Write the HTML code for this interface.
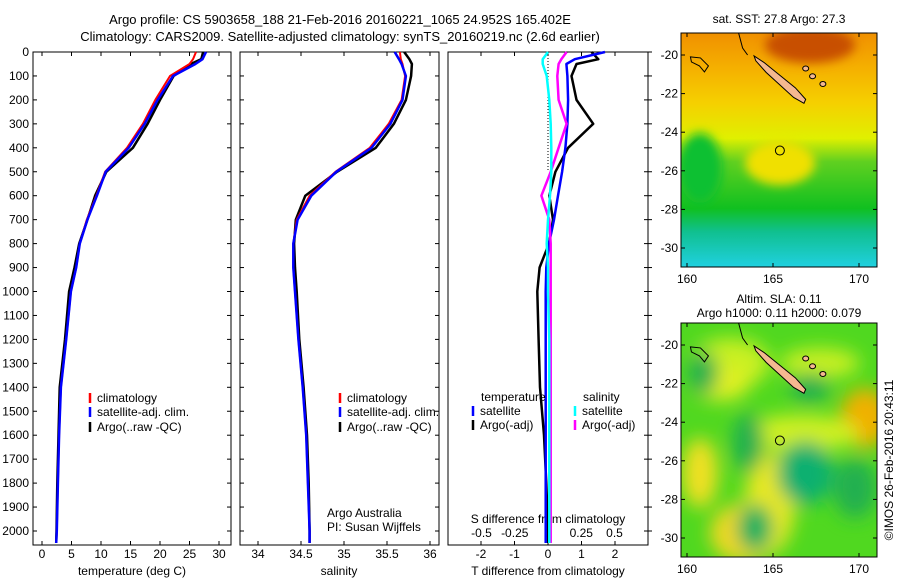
<!DOCTYPE html>
<html><head><meta charset="utf-8"><style>
body{margin:0;background:#fff;font-family:"Liberation Sans",sans-serif}
svg text{font-family:"Liberation Sans",sans-serif;font-size:12px;fill:#000}
</style></head><body>
<svg id="c" width="900" height="580" viewBox="0 0 900 580" xmlns="http://www.w3.org/2000/svg">
<text x="340" y="24" text-anchor="middle" style="font-size:13px">Argo profile: CS 5903658_188 21-Feb-2016 20160221_1065 24.952S 165.402E</text>
<text x="340" y="41" text-anchor="middle" style="font-size:13px">Climatology: CARS2009. Satellite-adjusted climatology: synTS_20160219.nc (2.6d earlier)</text>
<g id="maps"></g>
<g id="plots"></g>
</svg>
<script>
// ---- data ----
const depths = [0,30,50,100,200,300,400,500,600,700,800,900,1000,1200,1400,1600,1800,2000,2050];
const tempClim = [26.1,25.6,25,21.7,19.2,17.1,14.4,10.7,9.2,7.6,6.4,5.8,4.9,4.1,3.2,2.9,2.7,2.5,2.4];
const tempSat  = [27.8,27.2,26,22.2,19.6,17.4,14.7,10.8,9.3,7.7,6.4,5.8,4.9,4.1,3.2,2.9,2.7,2.5,2.4];
const tempArgo = [27.3,27.0,25.2,22.3,20.0,17.9,15.4,10.9,9.0,7.7,6.3,5.5,4.6,3.9,3.0,2.8,2.6,2.45,2.4];
const salClim = [35.65,35.66,35.68,35.71,35.67,35.52,35.3,34.9,34.6,34.45,34.41,34.41,34.43,34.47,34.52,34.56,34.58,34.6,34.6];
const salSat  = [35.59,35.64,35.67,35.72,35.68,35.54,35.32,34.91,34.62,34.46,34.41,34.41,34.43,34.47,34.52,34.56,34.58,34.6,34.6];
const salArgo = [35.70,35.76,35.79,35.78,35.72,35.58,35.37,34.92,34.55,34.44,34.42,34.43,34.45,34.48,34.53,34.57,34.59,34.6,34.6];
const dTsat  = [1.7,0.8,0.55,0.58,0.6,0.58,0.52,0.42,0.3,0.18,0.03,-0.05,-0.07,-0.07,-0.07,-0.07,-0.07,-0.07,-0.07];
const dTargo = [1.3,1.5,0.85,0.7,0.85,1.35,0.6,0.22,0.04,0.15,0.03,-0.25,-0.32,-0.28,-0.24,-0.12,-0.05,0,0];
const dSsat  = [0,-0.04,-0.04,-0.01,0.01,0.02,0.025,0.025,0.015,0.0,-0.01,0,0,0.01,0.01,0.01,0.01,0.01,0.01];
const dSargo = [0.14,0.1,0.08,0.07,0.08,0.14,0.08,0.02,-0.05,0.01,0.02,0.02,0.02,0.02,0.02,0.02,0.02,0.02,0.02];
const depthTicks = [0,100,200,300,400,500,600,700,800,900,1000,1100,1200,1300,1400,1500,1600,1700,1800,1900,2000];
const tempTicks = [0,5,10,15,20,25,30];
const salTicks = [34,34.5,35,35.5,36];
const dTTicks = [-2,-1,0,1,2];
const dSTicks = [-0.5,-0.25,0,0.25,0.5];
const dSTickLabels = ['-0.5','-0.25','0','0.25','0.5'];
const lonTicks = [160,165,170];
const latTicks = [-20,-22,-24,-26,-28,-30];

const NS='http://www.w3.org/2000/svg';
const plots=document.getElementById('plots');
function mk(tag,attrs,parent){const e=document.createElementNS(NS,tag);for(const k in attrs)e.setAttribute(k,attrs[k]);(parent||plots).appendChild(e);return e;}
function txt(x,y,s,anchor,parent,size){const t=mk('text',{x:x,y:y,'text-anchor':anchor||'start'},parent);if(size)t.style.fontSize=size+'px';t.textContent=s;return t;}

const yTop=52, yBot=545;
const yS=d=>yTop+d*0.2395;
const P=[
 {x0:33,x1:231,xs:v=>42+v*5.9,name:'temperature-panel'},
 {x0:240,x1:439,xs:v=>258+(v-34)*86,name:'salinity-panel'},
 {x0:448,x1:648,xs:v=>548+v*33.5,name:'difference-panel'}];
const dS=v=>548+v*133;
P.forEach(p=>{
 const r=mk('rect',{x:p.x0,y:yTop,width:p.x1-p.x0,height:yBot-yTop,fill:'none',stroke:'#000','stroke-width':1});
 
 
});
depthTicks.forEach(d=>{
 const y=yS(d);
 const t=txt(29,y+4,String(d),'end');
 
 
 P.forEach((p,i)=>{
  if(i<2)mk('line',{x1:p.x0,x2:p.x0+4,y1:y,y2:y,stroke:'#000'});
  mk('line',{x1:p.x1-4,x2:p.x1,y1:y,y2:y,stroke:'#000'});
  if(i==2)mk('line',{x1:p.x1,x2:p.x1+4,y1:y,y2:y,stroke:'#000'});
 });
});
function xticks(p,ticks,fn,labels,ylab){
 ticks.forEach((v,i)=>{const x=fn(v);
  mk('line',{x1:x,x2:x,y1:yBot,y2:yBot-4,stroke:'#000'});
  mk('line',{x1:x,x2:x,y1:yTop,y2:yTop+4,stroke:'#000'});
  const t=txt(x,ylab,labels?labels[i]:String(v),'middle');
  
  
 });
}
xticks(P[0],tempTicks,P[0].xs,null,558);
xticks(P[1],salTicks,P[1].xs,['34','34.5','35','35.5','36'],558);
xticks(P[2],dTTicks,P[2].xs,null,558);
dSTicks.forEach((v,i)=>{const t=txt(dS(v),537,dSTickLabels[i],'middle');
 
 });
let t;
t=txt(132,575,'temperature (deg C)','middle');
t=txt(339,575,'salinity','middle');
t=txt(548,575,'T difference from climatology','middle');
t=txt(548,523,'S difference from climatology','middle');
mk('line',{x1:548,x2:548,y1:yTop,y2:yS(500),stroke:'#000','stroke-dasharray':'1,2'});

function line(vals,fn,color,w,name){
 const pts=vals.map((v,i)=>fn(v).toFixed(1)+','+yS(depths[i]).toFixed(1)).join(' ');
 const pl=mk('polyline',{points:pts,fill:'none',stroke:color,'stroke-width':w,'stroke-linejoin':'round'});
 
 
}
line(tempArgo,P[0].xs,'#000',2.5,'temp-argo-line');
line(tempClim,P[0].xs,'#f00',2,'temp-climatology-line');
line(tempSat,P[0].xs,'#00f',2.5,'temp-satellite-line');
line(salArgo,P[1].xs,'#000',2.5,'sal-argo-line');
line(salClim,P[1].xs,'#f00',2,'sal-climatology-line');
line(salSat,P[1].xs,'#00f',2.5,'sal-satellite-line');
line(dTargo,P[2].xs,'#000',2.5,'dt-argo-line');
line(dTsat,P[2].xs,'#00f',2.5,'dt-satellite-line');
line(dSargo,dS,'#f0f',2.5,'ds-argo-line');
line(dSsat,dS,'#0ff',2.5,'ds-satellite-line');

function leg(x,y,c,s){mk('line',{x1:x,x2:x,y1:y-9,y2:y+1,stroke:c,'stroke-width':2.5});
 const e=txt(x+7,y,s,'start');}
[90,340].forEach(x=>{leg(x,402,'#f00','climatology');leg(x,416,'#00f','satellite-adj. clim.');leg(x,431,'#000','Argo(..raw -QC)');});
t=txt(481,401,'temperature');
t=txt(583,401,'salinity');
leg(473,415,'#00f','satellite');leg(473,429,'#000','Argo(-adj)');
leg(575,415,'#0ff','satellite');leg(575,429,'#f0f','Argo(-adj)');
t=txt(327,517,'Argo Australia');
t=txt(327,531,'PI: Susan Wijffels');

// ---- maps ----
const maps=document.getElementById('maps');
const lonX=l=>687+(l-160)*17.2;
function map(y0,kind,title1,title2){
 const g=mk('g',{},maps);
 
 
 const latY=la=>y0+22+(-20-la)*19.3;
 const W=196,H=234,x0=681;
 const defs=mk('defs',{},g);
 const clip=mk('clipPath',{id:'cl'+kind},defs);mk('rect',{x:x0,y:y0,width:W,height:H},clip);
 const blur=mk('filter',{id:'bl'+kind,x:'-50%',y:'-50%',width:'200%',height:'200%'},defs);mk('feGaussianBlur',{stdDeviation:kind==='sst'?5:9},blur);
 const gg=mk('g',{'clip-path':'url(#cl'+kind+')'},g);
 if(kind==='sst'){
  const lg=mk('linearGradient',{id:'gsst',x1:0,y1:0,x2:0,y2:1},defs);
  [[0,'#f09000'],[0.15,'#f5b000'],[0.3,'#f5d000'],[0.45,'#e0f000'],[0.55,'#60d020'],[0.75,'#10c020'],[0.85,'#10c090'],[1,'#20d0e0']].forEach(([o,c])=>mk('stop',{offset:o,'stop-color':c},lg));
  mk('rect',{x:x0,y:y0,width:W,height:H,fill:'url(#gsst)'},gg);
  const b=mk('g',{filter:'url(#bl'+kind+')'},gg);
  mk('ellipse',{cx:810,cy:y0+12,rx:45,ry:18,fill:'#c85000'},b);
  mk('ellipse',{cx:700,cy:y0+135,rx:22,ry:35,fill:'#10c030'},b);
  mk('ellipse',{cx:780,cy:y0+130,rx:35,ry:22,fill:'#f0e000'},b);
 } else {
  mk('rect',{x:x0,y:y0,width:W,height:H,fill:'#50d820'},gg);
  const b=mk('g',{filter:'url(#bl'+kind+')'},gg);
  [[700,y0+150,18,35,'#f0e020'],[745,y0+210,35,30,'#f0d820'],[770,y0+180,25,50,'#e8e820'],[865,y0+95,25,30,'#f0b000'],[800,y0+110,60,18,'#d0f020'],[730,y0+40,40,25,'#c8f020'],[820,y0+40,40,15,'#c8f020'],[720,y0+60,30,18,'#e0f020'],
   [703,y0+50,15,22,'#20b050'],[748,y0+120,16,30,'#20b050'],[805,y0+150,28,32,'#10b070'],[755,y0+205,18,24,'#10b060'],[810,y0+65,20,15,'#20b050'],[855,y0+165,22,30,'#20b050']].forEach(e=>mk('ellipse',{cx:e[0],cy:e[1],rx:e[2],ry:e[3],fill:e[4]},b));
 }
 const nc=mk('polygon',{points:[[lonX(163.9),latY(-20.05)],[lonX(164.5),latY(-20.4)],[lonX(166.3),latY(-21.7)],[lonX(166.9),latY(-22.3)],[lonX(166.8),latY(-22.5)],[lonX(166.2),latY(-22.2)],[lonX(164.6),latY(-20.9)],[lonX(164.0),latY(-20.3)]].map(p=>p.join(',')).join(' '),fill:'#f5b890',stroke:'#000','stroke-width':1},gg);
 
 
 [[166.9,-20.7],[167.3,-21.1],[167.9,-21.5]].forEach(([lo,la])=>mk('ellipse',{cx:lonX(lo),cy:latY(la),rx:3,ry:2.5,fill:'#f5b890',stroke:'#000'},gg));
 mk('path',{d:`M${lonX(160.2)},${latY(-20.1)} l10,1 l8,8 l-4,6 l-5,-6 l-8,-4 z`,fill:'none',stroke:'#000'},gg);
 mk('path',{d:`M${lonX(163)},${y0} l4,15 l5,7`,fill:'none',stroke:'#000'},gg);
 const pc=mk('circle',{cx:lonX(165.4),cy:latY(-24.95),r:4.5,fill:'none',stroke:'#000'},gg);
 
 
 mk('rect',{x:x0,y:y0,width:W,height:H,fill:'none',stroke:'#000'},g);
 lonTicks.forEach(l=>{const x=lonX(l);mk('line',{x1:x,x2:x,y1:y0+H,y2:y0+H-4,stroke:'#000'},g);mk('line',{x1:x,x2:x,y1:y0,y2:y0+4,stroke:'#000'},g);
  const e=txt(x,y0+H+16,String(l),'middle',g);});
 latTicks.forEach(la=>{const y=latY(la);mk('line',{x1:x0,x2:x0+4,y1:y,y2:y,stroke:'#000'},g);mk('line',{x1:x0+W-4,x2:x0+W,y1:y,y2:y,stroke:'#000'},g);
  const e=txt(x0-3,y+4,String(la),'end',g);});
 let e=txt(x0+W/2,y0-(title2?20:10),title1,'middle',g);
 if(title2){e=txt(x0+W/2,y0-6,title2,'middle',g);}
}
map(33,'sst','sat. SST: 27.8 Argo: 27.3');
map(323,'sla','Altim. SLA: 0.11','Argo h1000: 0.11 h2000: 0.079');
const cr=txt(0,0,'©IMOS 26-Feb-2016 20:43:11','middle',maps);
cr.setAttribute('transform','translate(893,460) rotate(-90)');


</script>
</body></html>
